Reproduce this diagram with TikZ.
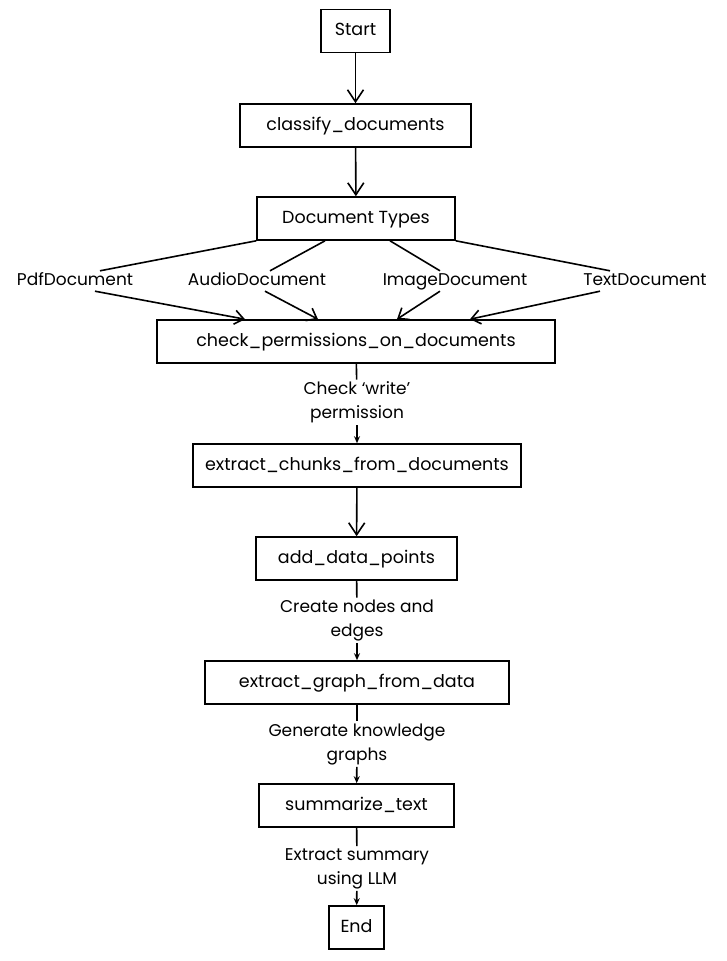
\documentclass[tikz,border=0pt]{standalone}
\usepackage{fontspec}
\setmainfont{Poppins}
\usetikzlibrary{arrows.meta}
\begin{document}
\begin{tikzpicture}[x=1pt,y=-1pt,
  box/.style={draw, line width=1.6pt, minimum height=43, inner sep=0pt, text height=12pt, text depth=3pt, font=\fontsize{17.5}{20}\selectfont},
  lbl/.style={inner sep=2pt, align=center, font=\fontsize{17}{24}\selectfont},
  flbl/.style={inner sep=2pt, text height=12pt, text depth=4pt, font=\fontsize{17}{24}\selectfont},
  ln/.style={line width=1.6pt},
  bigarr/.style={line width=1.6pt, -{Straight Barb[length=12pt,width=16pt,line width=1.6pt]}},
  smallarr/.style={line width=1.6pt, -{Stealth[length=7pt,width=6pt]}},
  fanarr/.style={line width=1.6pt, -{Straight Barb[length=9pt,width=14pt,line width=1.6pt]}}]
\useasboundingbox (0,0) rectangle (727,961);
\node[box, minimum width=69] (start) at (355.5,31) {Start};
\node[box, minimum width=231] (cls) at (355.5,125.5) {classify\_documents};
\node[box, minimum width=198] (dt) at (356,218.5) {Document Types};
\node[flbl] (pdf) at (75,281) {PdfDocument};
\node[flbl] (aud) at (257,281) {AudioDocument};
\node[flbl] (img) at (455,281) {ImageDocument};
\node[flbl] (txt) at (645,281) {TextDocument};
\node[box, minimum width=398] (chk) at (356,341.5) {check\_permissions\_on\_documents};
\node[lbl] (l1) at (357,402.5) {Check `write'\\permission};
\node[box, minimum width=328] (chu) at (357,465.5) {extract\_chunks\_from\_documents};
\node[box, minimum width=201] (adp) at (356.5,558.5) {add\_data\_points};
\node[lbl] (l2) at (357,620.5) {Create nodes and\\edges};
\node[box, minimum width=304] (gra) at (357,682.5) {extract\_graph\_from\_data};
\node[lbl] (l3) at (357,744) {Generate knowledge\\graphs};
\node[box, minimum width=195] (sum) at (356.5,805.5) {summarize\_text};
\node[lbl] (l4) at (357,868.5) {Extract summary\\using LLM};
\node[box, minimum width=55] (end) at (356.5,927.5) {End};
\coordinate (c1) at ([xshift=-111]chk.north);
\coordinate (c2) at ([xshift=-38]chk.north);
\coordinate (c3) at ([xshift=41]chk.north);
\coordinate (c4) at ([xshift=114]chk.north);
\draw[bigarr] (start) -- (cls);
\draw[bigarr] (cls) -- (dt);
\draw[ln] (dt.south west) -- ([xshift=25]pdf.north);
\draw[ln] ([xshift=-31]dt.south) -- ([xshift=13]aud.north);
\draw[ln] ([xshift=34]dt.south) -- ([xshift=-15]img.north);
\draw[ln] (dt.south east) -- ([xshift=-35]txt.north);
\draw[fanarr] ([xshift=20]pdf.south) -- (c1);
\draw[fanarr] ([xshift=8]aud.south) -- (c2);
\draw[fanarr] ([xshift=-15]img.south) -- (c3);
\draw[fanarr] ([xshift=-45]txt.south) -- (c4);
\draw[ln] (chk) -- (l1);
\draw[smallarr] (l1) -- (chu);
\draw[bigarr] (chu) -- (adp);
\draw[ln] (adp) -- (l2);
\draw[smallarr] (l2) -- (gra);
\draw[ln] (gra) -- (l3);
\draw[smallarr] (l3) -- (sum);
\draw[ln] (sum) -- (l4);
\draw[smallarr] (l4) -- (end);
\end{tikzpicture}
\end{document}
